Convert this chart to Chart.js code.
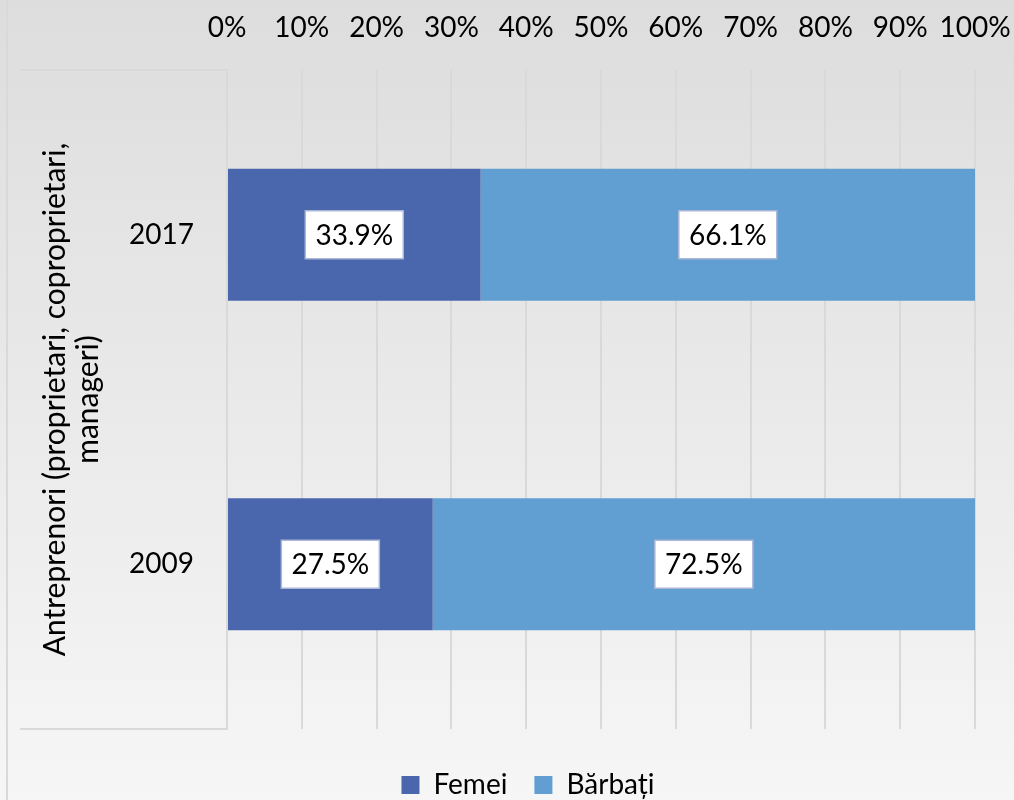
<!DOCTYPE html>
<html>
<head>
<meta charset="utf-8">
<script src="https://cdn.jsdelivr.net/npm/chart.js@4.4.1/dist/chart.umd.min.js"></script>
<style>
  html, body { margin: 0; padding: 0; background: #f5f5f5; overflow: hidden; }
  #wrap { width: 1014px; height: 800px; overflow: hidden; }
</style>
</head>
<body>
<div id="wrap"><canvas id="chart" width="1014" height="809"></canvas></div>
<script>
const categories = ['2017', '2009'];
const femei = [33.9, 27.5];
const barbati = [66.1, 72.5];
const seriesNames = ['Femei', 'Bărbați'];
const axisTitle = ['Antreprenori (proprietari, coproprietari,', 'manageri)'];

const FONT = 'Lato';

// fond gris dégradé + traits du bloc de catégories
const backdrop = {
  id: 'backdrop',
  beforeDraw(chart) {
    const { ctx, width, height, chartArea } = chart;
    const g = ctx.createLinearGradient(0, 0, 0, 800);
    g.addColorStop(0, '#dddddd');
    g.addColorStop(1, '#f6f6f6');
    ctx.save();
    ctx.fillStyle = g;
    ctx.fillRect(0, 0, width, height);
    ctx.strokeStyle = '#d9d9d9';
    ctx.lineWidth = 2;
    ctx.beginPath();
    ctx.moveTo(7, 0); ctx.lineTo(7, height);
    ctx.moveTo(20, chartArea.top); ctx.lineTo(chartArea.left, chartArea.top);
    ctx.moveTo(20, chartArea.bottom); ctx.lineTo(chartArea.left, chartArea.bottom);
    ctx.stroke();
    ctx.restore();
  }
};

// étiquettes de valeur dans des cases blanches
const valueBoxes = {
  id: 'valueBoxes',
  afterDatasetsDraw(chart) {
    const ctx = chart.ctx;
    ctx.save();
    ctx.font = '28px ' + FONT;
    ctx.textAlign = 'center';
    ctx.textBaseline = 'middle';
    chart.data.datasets.forEach((ds, i) => {
      chart.getDatasetMeta(i).data.forEach((bar, j) => {
        const { x, y, base } = bar.getProps(['x', 'y', 'base'], true);
        const cx = (x + base) / 2;
        const txt = ds.data[j].toFixed(1) + '%';
        const w = Math.round(ctx.measureText(txt).width + 20);
        const h = 48;
        ctx.fillStyle = '#ffffff';
        ctx.fillRect(cx - w / 2, y - h / 2, w, h);
        ctx.strokeStyle = '#aab6d6';
        ctx.lineWidth = 1.5;
        ctx.strokeRect(cx - w / 2, y - h / 2, w, h);
        ctx.fillStyle = '#000000';
        ctx.fillText(txt, cx, y + 1);
      });
    });
    ctx.restore();
  }
};

new Chart(document.getElementById('chart').getContext('2d'), {
  type: 'bar',
  data: {
    labels: categories,
    datasets: [
      { label: seriesNames[0], data: femei, backgroundColor: '#4a66ac' },
      { label: seriesNames[1], data: barbati, backgroundColor: '#619ed2' }
    ]
  },
  options: {
    indexAxis: 'y',
    responsive: false,
    animation: false,
    categoryPercentage: 0.4,
    barPercentage: 1,
    layout: { padding: { left: 42, right: 0, top: 0, bottom: 0 } },
    scales: {
      x: {
        position: 'top',
        stacked: true,
        min: 0,
        max: 100,
        ticks: {
          stepSize: 10,
          color: '#000',
          font: { family: FONT, size: 28 },
          padding: 25,
          callback: v => v + '%'
        },
        grid: { color: '#d9d9d9', lineWidth: 2, drawTicks: false },
        border: { display: false },
        afterFit: s => { s.height = 70; s.paddingRight = 39; s.paddingLeft = 0; }
      },
      y: {
        stacked: true,
        ticks: { color: '#000', font: { family: FONT, size: 28 }, padding: 25 },
        grid: { display: false },
        border: { color: '#d9d9d9', width: 2 },
        title: {
          display: true,
          text: axisTitle,
          color: '#000',
          font: { family: FONT, size: 30, lineHeight: 1.1 },
          padding: { top: -3, bottom: 0 }
        },
        afterFit: s => { s.width = 185; }
      }
    },
    plugins: {
      legend: {
        position: 'bottom',
        title: { display: true, text: '', font: { size: 10, lineHeight: 1.5 }, padding: 0 },
        labels: {
          color: '#000',
          font: { family: FONT, size: 28 },
          boxWidth: 18,
          boxHeight: 18,
          padding: 27
        }
      },
      tooltip: { enabled: false }
    }
  },
  plugins: [backdrop, valueBoxes]
});
</script>
</body>
</html>
